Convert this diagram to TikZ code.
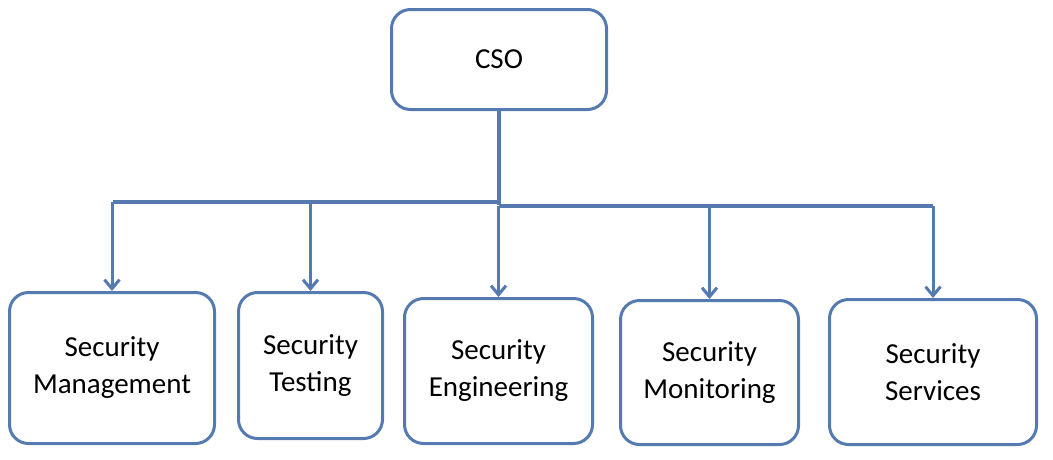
\documentclass[tikz,border=0pt]{standalone}
\usepackage{fontspec}
\setmainfont{Carlito}
\usetikzlibrary{arrows.meta}
\definecolor{orgblue}{RGB}{84,122,176}
\begin{document}
\begin{tikzpicture}[x=1pt, y=-1pt]
    % Define styles
    \tikzset{
        unitbox/.style={draw=orgblue, line width=3pt, rounded corners=19pt, align=center, inner sep=0pt, font=\fontsize{29}{37}\selectfont},
        trunk/.style={orgblue, line width=4.5pt},
        bus/.style={orgblue, line width=3.5pt},
        branch/.style={orgblue, line width=3pt, -{Straight Barb[length=9pt, width=15pt, line width=3pt]}}
    }
    \useasboundingbox (0,0) rectangle (1053,459);

    % Head of the chart
    \node[unitbox, minimum width=215pt, minimum height=100pt] (cso) at (499,59.5) {CSO};

    % Units
    \node[unitbox, minimum width=205pt, minimum height=151pt] (mgmt) at (112,368) {Security\\Management};
    \node[unitbox, minimum width=144pt, minimum height=146pt] (test) at (310.5,365.5) {Security\\Testing};
    \node[unitbox, minimum width=188pt, minimum height=145pt] (eng) at (498.5,371) {Security\\Engineering};
    \node[unitbox, minimum width=178pt, minimum height=144pt] (mon) at (709.5,372.5) {Security\\Monitoring};
    \node[unitbox, minimum width=207pt, minimum height=145pt] (serv) at (933,372) {Security\\Services};

    % Trunk and bus
    \coordinate (hub) at (499,205);
    \coordinate (busl) at (113,202);
    \coordinate (busr) at (933,206);
    \draw[trunk] (cso.south) -- (hub);
    \draw[bus] (busl) -- (busl -| hub);
    \draw[bus] (hub |- busr) -- (busr);

    % Branches down to the units
    \foreach \n in {mgmt, test}
        \draw[branch] (\n.north |- busl) -- (\n.north);
    \foreach \n in {eng, mon, serv}
        \draw[branch] (\n.north |- busr) -- (\n.north);

\end{tikzpicture}
\end{document}
